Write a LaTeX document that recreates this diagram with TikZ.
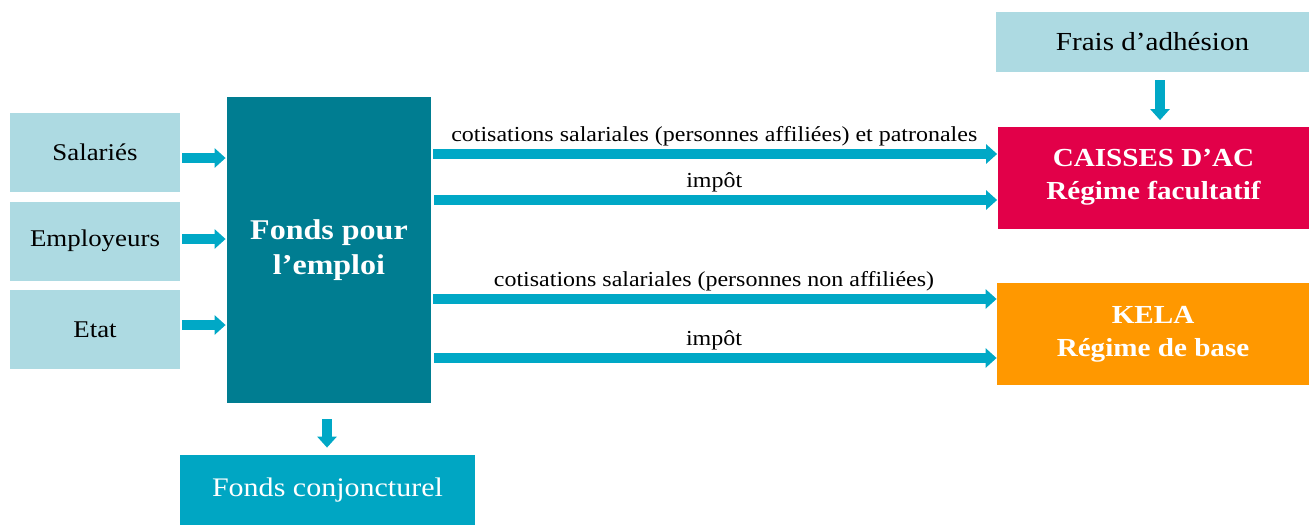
\documentclass[tikz,border=0pt]{standalone}
\usepackage{fontspec}
\setmainfont[FakeStretch=1.12]{Liberation Serif}
\usetikzlibrary{arrows.meta}
\definecolor{pale}{HTML}{ADDAE2}
\definecolor{fonds}{HTML}{007D91}
\definecolor{conj}{HTML}{00A6C3}
\definecolor{fleche}{HTML}{00A8C6}
\definecolor{caisse}{HTML}{E20049}
\definecolor{kela}{HTML}{FF9800}
\begin{document}
\begin{tikzpicture}[x=0.5pt,y=-0.5pt]
  \tikzstyle{every node}=[inner sep=0pt,align=center]
  \tikzstyle{source}=[fill=pale,minimum width=85pt,minimum height=39.5pt,font=\fontsize{12}{14}\selectfont]
  \tikzstyle{caisses}=[minimum width=156pt,minimum height=51pt,text=white,font=\bfseries\fontsize{13}{16.5}\selectfont]
  \tikzstyle{fleche}=[draw=fleche,line width=5pt,-{Triangle[length=5.5pt,width=9.5pt]}]
  \tikzstyle{etiquette}=[font=\fontsize{10.7}{12}\selectfont,above=1.5pt]
  \useasboundingbox (0,0) rectangle (1309,525);
  % sources
  \node[source] (sal) at (95,152.5) {Salariés};
  \node[source] (emp) at (95,241) {Employeurs};
  \node[source] (etat) at (95,329.5) {Etat};
  \node[fill=fonds,minimum width=102pt,minimum height=153pt,text=white,
        font=\bfseries\fontsize{14.3}{17.5}\selectfont] (fonds) at (329,250) {Fonds pour\\l’emploi};
  \node[fill=conj,minimum width=147.5pt,minimum height=35pt,text=white,
        font=\fontsize{13.4}{15}\selectfont] (conj) at (327.5,490) {Fonds conjoncturel};
  % caisses
  \node[fill=pale,minimum width=156.5pt,minimum height=30pt,font=\fontsize{13}{15}\selectfont] (frais) at (1152.5,42) {Frais d’adhésion};
  \node[caisses,fill=caisse] (ac) at (1153.5,177.5) {CAISSES D’AC\\Régime facultatif};
  \node[caisses,fill=kela] (kela) at (1153,334) {KELA\\Régime de base};
  % fleches
  \draw[fleche,shorten <=1pt,shorten >=0.5pt] (sal.east |- 0,158) -- (fonds.west |- 0,158);
  \draw[fleche,shorten <=1pt,shorten >=0.5pt] (emp.east |- 0,239) -- (fonds.west |- 0,239);
  \draw[fleche,shorten <=1pt,shorten >=0.5pt] (etat.east |- 0,325) -- (fonds.west |- 0,325);
  \draw[fleche,shorten <=1pt] (fonds.east |- 0,154) -- node[etiquette]{cotisations salariales (personnes affiliées) et patronales} (ac.west |- 0,154);
  \draw[fleche,shorten <=1.5pt] (fonds.east |- 0,200) -- node[etiquette]{impôt} (ac.west |- 0,200);
  \draw[fleche,shorten <=1pt] (fonds.east |- 0,299) -- node[etiquette]{cotisations salariales (personnes non affiliées)} (kela.west |- 0,299);
  \draw[fleche,shorten <=1.5pt] (fonds.east |- 0,358) -- node[etiquette]{impôt} (kela.west |- 0,358);
  \draw[fleche,shorten <=4pt,shorten >=3pt] (frais.south -| 1160,0) -- (ac.north -| 1160,0);
  \draw[fleche,shorten <=8pt,shorten >=3.5pt] (fonds.south -| 327,0) -- (conj.north -| 327,0);
\end{tikzpicture}
\end{document}
